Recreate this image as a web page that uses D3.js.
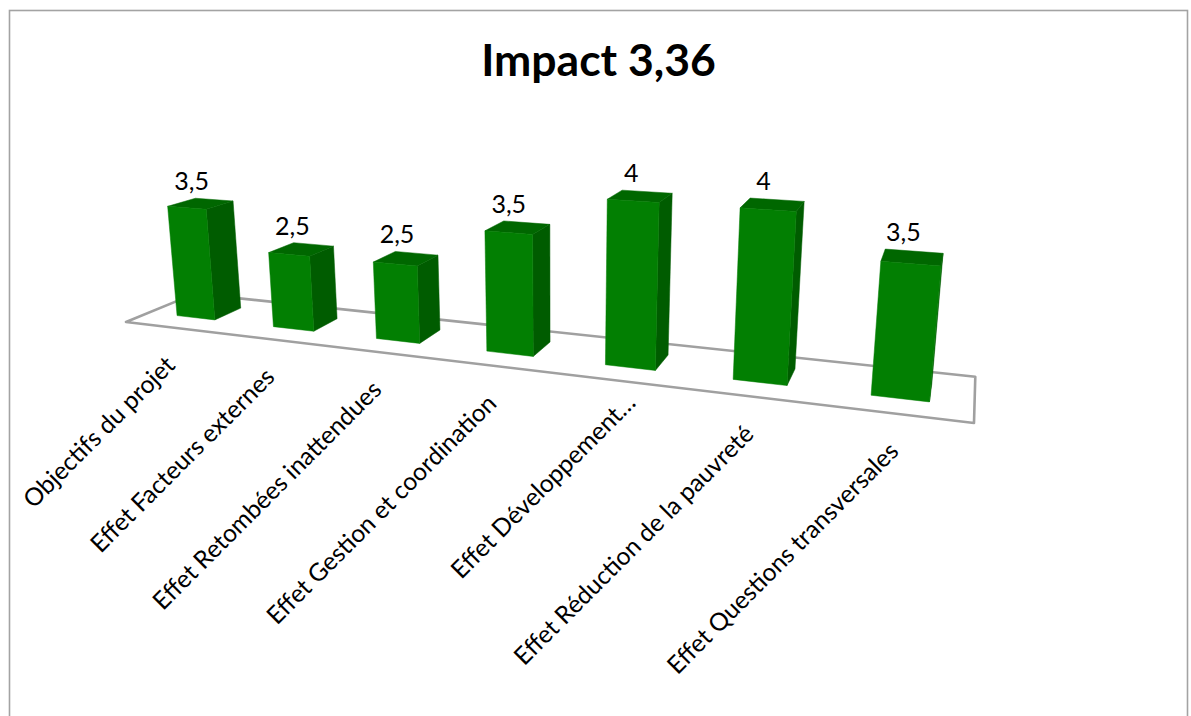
<!DOCTYPE html>
<html>
<head>
<meta charset="utf-8">
<script src="https://cdn.jsdelivr.net/npm/d3@7"></script>
<style>
  html, body { margin: 0; padding: 0; background: #fff; overflow: hidden; }
  text { font-family: Lato, "Open Sans", sans-serif; fill: #000; }
</style>
</head>
<body>
<div id="chart"></div>
<script>
const title = "Impact 3,36"
const categories = [
    "Objectifs du projet",
    "Effet Facteurs externes",
    "Effet Retombées inattendues",
    "Effet Gestion et coordination",
    "Effet Développement…",
    "Effet Réduction de la pauvreté",
    "Effet Questions transversales"
]
const values = [3.5, 2.5, 2.5, 3.5, 4, 4, 3.5]

const width = 1191, height = 716

const svg = d3.select("#chart").append("svg")
    .attr("width", width)
    .attr("height", height)

// Cadre
svg.append("rect")
    .attr("x", 9.5).attr("y", 10.5)
    .attr("width", 1178).attr("height", 760)
    .attr("fill", "none")
    .attr("stroke", "#a3a3a3")
    .attr("stroke-width", 1.6)

svg.append("text")
    .attr("x", 598.5).attr("y", 76)
    .attr("text-anchor", "middle")
    .attr("font-size", 44.5)
    .attr("font-weight", 700)
    .text(title)

// Perspective: coins du sol (u le long des catégories, d en profondeur)
const floor = { fl: [126, 322], fr: [974, 423], br: [975.3, 376.7], bl: [195, 293.6] }
const vanish = [557, 4727] // point de fuite des verticales

const dx1 = floor.fr[0] - floor.br[0], dy1 = floor.fr[1] - floor.br[1]
const dx2 = floor.bl[0] - floor.br[0], dy2 = floor.bl[1] - floor.br[1]
const sx = floor.fl[0] - floor.fr[0] + floor.br[0] - floor.bl[0]
const sy = floor.fl[1] - floor.fr[1] + floor.br[1] - floor.bl[1]
const det = dx1 * dy2 - dx2 * dy1
const g = (sx * dy2 - dx2 * sy) / det
const h = (dx1 * sy - sx * dy1) / det

function project(u, d, lift = 0) {
    const X = (floor.fr[0] - floor.fl[0] + g * floor.fr[0]) * u + (floor.bl[0] - floor.fl[0] + h * floor.bl[0]) * d + floor.fl[0]
    const Y = (floor.fr[1] - floor.fl[1] + g * floor.fr[1]) * u + (floor.bl[1] - floor.fl[1] + h * floor.bl[1]) * d + floor.fl[1]
    const W = g * u + h * d + 1
    return [(X - lift * vanish[0]) / (W - lift), (Y - lift * vanish[1]) / (W - lift)]
}

// Échelles
const x = d3.scaleBand()
    .domain(categories)
    .range([0, 1])
    .paddingInner(0.6)
    .paddingOuter(0.3)

// L'image ne suit pas une échelle droite: les barres à 4 sont plus hautes
const y = d3.scaleLinear()
    .domain([2.5, 3.5, 4])
    .range([0.0163, 0.0246, 0.0324])

const depthFront = 0.32, depthBack = 0.72

const line = d3.line()

// Sol
svg.append("path")
    .attr("d", line([floor.bl, floor.fl, floor.fr, floor.br]) + "Z")
    .attr("fill", "none")
    .attr("stroke", "#a0a0a0")
    .attr("stroke-width", 2.6)
    .attr("stroke-linejoin", "round")

const rows = categories.map((c, i) => ({ category: c, value: values[i] }))

const bars = svg.append("g").selectAll("g")
    .data(rows)
    .join("g")

function face(d, pick) {
    const u0 = x(d.category), u1 = u0 + x.bandwidth()
    const l = y(d.value)
    return line(pick(u0, u1, l)) + "Z"
}

bars.append("path")
    .attr("fill", "#005c00")
    .attr("stroke", "#005c00")
    .attr("stroke-width", 0.5)
    .attr("d", d => face(d, (u0, u1, l) => [
        project(u1, depthFront, l), project(u1, depthBack, l),
        project(u1, depthBack), project(u1, depthFront)
    ]))

bars.append("path")
    .attr("fill", "#006700")
    .attr("stroke", "#006700")
    .attr("stroke-width", 0.5)
    .attr("d", d => face(d, (u0, u1, l) => [
        project(u0, depthFront, l), project(u0, depthBack, l),
        project(u1, depthBack, l), project(u1, depthFront, l)
    ]))

bars.append("path")
    .attr("fill", "#027f02")
    .attr("stroke", "#027f02")
    .attr("stroke-width", 0.5)
    .attr("d", d => face(d, (u0, u1, l) => [
        project(u0, depthFront, l), project(u1, depthFront, l),
        project(u1, depthFront), project(u0, depthFront)
    ]))

// Valeurs au-dessus des barres
bars.append("text")
    .attr("font-size", 25)
    .attr("text-anchor", "middle")
    .attr("x", d => {
        const c = x(d.category) + x.bandwidth() / 2
        return project(c, (depthFront + depthBack) / 2, y(d.value))[0] - 9
    })
    .attr("y", d => {
        const c = x(d.category)
        return project(c, depthBack, y(d.value))[1] - 8
    })
    .text(d => String(d.value).replace(".", ","))

// Étiquettes de catégories
svg.append("g").selectAll("text")
    .data(rows)
    .join("text")
    .attr("font-size", 24.6)
    .attr("text-anchor", "end")
    .attr("dx", d => d.category.endsWith("…") ? 22 : 0) // libellé tronqué, décalé le long de son axe
    .attr("transform", d => {
        const p = project(x(d.category) + x.bandwidth() / 2, 0)
        return `translate(${p[0] + 3},${p[1] + 39}) rotate(-45)`
    })
    .text(d => d.category)
</script>
</body>
</html>
